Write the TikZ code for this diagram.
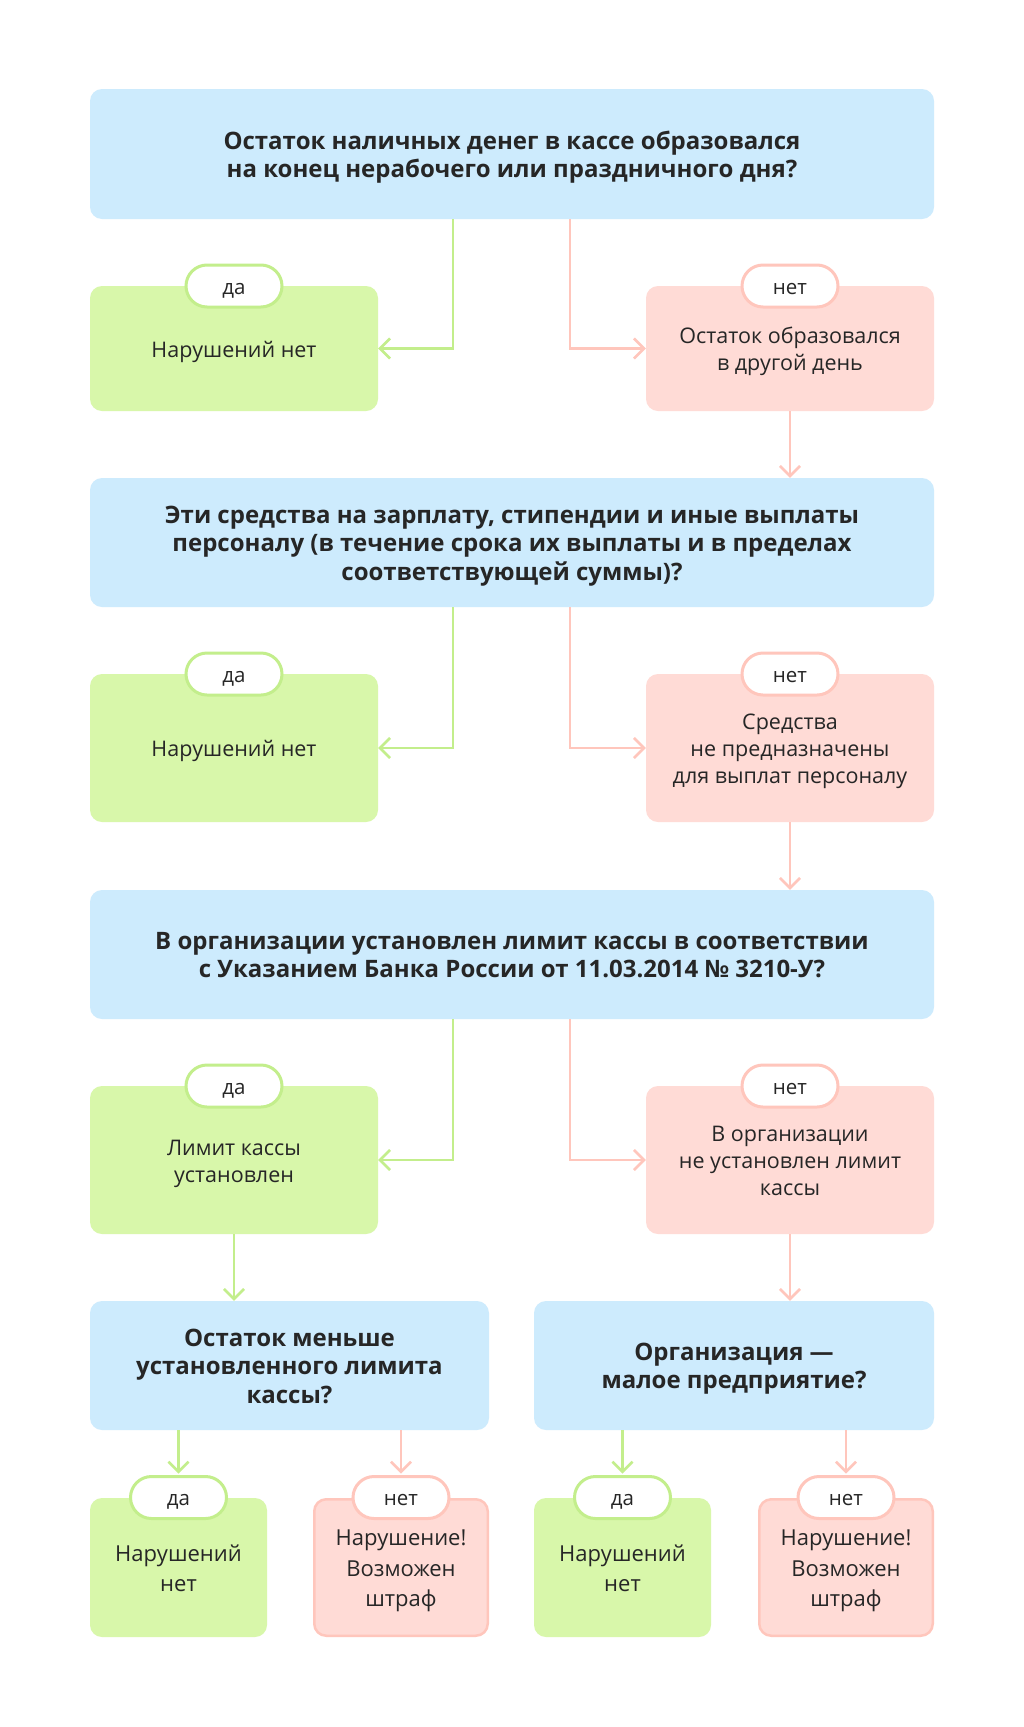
\documentclass[tikz,border=0pt]{standalone}
\usepackage{fontspec}
\setmainfont{Open Sans}
\usetikzlibrary{arrows.meta}
\definecolor{qblue}{HTML}{CDEBFD}
\definecolor{ygreen}{HTML}{D8F7AA}
\definecolor{nred}{HTML}{FFDBD6}
\definecolor{gline}{HTML}{C3EE8C}
\definecolor{rline}{HTML}{FFC6BC}
\definecolor{txt}{HTML}{262626}
\newcommand{\qfont}{\fontsize{24}{28.3}\selectfont\bfseries}
\newcommand{\rfont}{\fontsize{21.5}{26.8}\selectfont}
\newcommand{\pfont}{\fontsize{20.5}{26}\selectfont}
\newcommand{\bfont}{\fontsize{22}{30.5}\selectfont}
\newcommand{\sttop}{\rule{0pt}{\dimexpr0.76em+6.6pt\relax}}
\newcommand{\stbot}{\rule[-0.26em]{0pt}{0.26em}}
\tikzset{
  base/.style={inner sep=0pt, align=center, text=txt, rounded corners=12pt},
  one/.style={execute at begin node=\sttop, execute at end node=\stbot},
  qbox/.style={base, fill=qblue, font=\qfont},
  ybox/.style={base, fill=ygreen, font=\rfont},
  nbox/.style={base, fill=nred, font=\rfont},
  nboxb/.style={nbox, draw=rline, line width=2.5pt, font=\bfont},
  yboxb/.style={ybox, font=\bfont},
  ypill/.style={base, one, fill=white, draw=gline, line width=3pt, rounded corners=21pt, minimum width=96pt, minimum height=42pt, font=\pfont},
  npill/.style={ypill, draw=rline},
  garrow/.style={draw=gline, line width=2.6pt, -{Straight Barb[length=10pt,width=20pt]}},
  rarrow/.style={draw=rline, line width=2.6pt, -{Straight Barb[length=10pt,width=20pt]}},
}
\begin{document}
\begin{tikzpicture}[x=1pt,y=-1pt]
\useasboundingbox[fill=white] (0,0) rectangle (1024,1727);

% Row 1
\node[qbox, minimum width=844pt, minimum height=130pt] (q1) at (512,154)
  {\sttop Остаток наличных денег в кассе образовался\\на конец нерабочего или праздничного дня?\stbot};
\node[ybox, one, minimum width=288pt, minimum height=125pt] (y1) at (234,348.5) {Нарушений нет};
\node[nbox, minimum width=288pt, minimum height=125pt] (n1) at (790,348.5) {\sttop Остаток образовался\\в другой день\stbot};
\node[ypill] (py1) at (234,286) {да};
\node[npill] (pn1) at (790,286) {нет};

% Row 2
\node[qbox, minimum width=844pt, minimum height=129pt] (q2) at (512,542.5)
  {\sttop Эти средства на зарплату, стипендии и иные выплаты\\персоналу (в течение срока их выплаты и в пределах\\соответствующей суммы)?\stbot};
\node[ybox, one, minimum width=288pt, minimum height=148pt] (y2) at (234,748) {Нарушений нет};
\node[nbox, minimum width=288pt, minimum height=148pt] (n2) at (790,748) {\sttop Средства\\не предназначены\\для выплат персоналу\stbot};
\node[ypill] (py2) at (234,674) {да};
\node[npill] (pn2) at (790,674) {нет};

% Row 3
\node[qbox, minimum width=844pt, minimum height=129pt] (q3) at (512,954.5)
  {\sttop В организации установлен лимит кассы в соответствии\\с Указанием Банка России от 11.03.2014 №~3210-У?\stbot};
\node[ybox, minimum width=288pt, minimum height=148pt] (y3) at (234,1160) {\sttop Лимит кассы\\установлен\stbot};
\node[nbox, minimum width=288pt, minimum height=148pt] (n3) at (790,1160) {\sttop В организации\\не установлен лимит\\кассы\stbot};
\node[ypill] (py3) at (234,1086) {да};
\node[npill] (pn3) at (790,1086) {нет};

% Row 4
\node[qbox, minimum width=399pt, minimum height=129pt] (q4) at (289.5,1365.5)
  {\sttop Остаток меньше\\установленного лимита\\кассы?\stbot};
\node[qbox, minimum width=400pt, minimum height=129pt] (q5) at (734,1365.5)
  {\sttop Организация~—\\малое предприятие?\stbot};

% Row 5
\node[yboxb, minimum width=177pt, minimum height=139pt] (y4) at (178.5,1567.5) {\sttop Нарушений\\нет\stbot};
\node[nboxb, minimum width=173.5pt, minimum height=136.5pt] (n4) at (401,1567.5) {\sttop Нарушение!\\Возможен\\штраф\stbot};
\node[yboxb, minimum width=177pt, minimum height=139pt] (y5) at (622.5,1567.5) {\sttop Нарушений\\нет\stbot};
\node[nboxb, minimum width=173.5pt, minimum height=136.5pt] (n5) at (846,1567.5) {\sttop Нарушение!\\Возможен\\штраф\stbot};
\node[ypill] (py4) at (178.5,1497.5) {да};
\node[npill] (pn4) at (401,1497.5) {нет};
\node[ypill] (py5) at (622.5,1497.5) {да};
\node[npill] (pn5) at (846,1497.5) {нет};

% Connectors
\draw[garrow] ([xshift=-59pt]q1.south) |- (y1.east);
\draw[rarrow] ([xshift=58pt]q1.south) |- (n1.west);
\draw[rarrow] (n1.south) -- (n1.south |- q2.north);

\draw[garrow] ([xshift=-59pt]q2.south) |- (y2.east);
\draw[rarrow] ([xshift=58pt]q2.south) |- (n2.west);
\draw[rarrow] (n2.south) -- (n2.south |- q3.north);

\draw[garrow] ([xshift=-59pt]q3.south) |- (y3.east);
\draw[rarrow] ([xshift=58pt]q3.south) |- (n3.west);
\draw[garrow] (y3.south) -- (y3.south |- q4.north);
\draw[rarrow] (n3.south) -- (n3.south |- q5.north);

\draw[garrow] (py4.north |- q4.south) -- ([yshift=1.5pt]py4.north);
\draw[rarrow] (pn4.north |- q4.south) -- ([yshift=1.5pt]pn4.north);
\draw[garrow] (py5.north |- q5.south) -- ([yshift=1.5pt]py5.north);
\draw[rarrow] (pn5.north |- q5.south) -- ([yshift=1.5pt]pn5.north);
\end{tikzpicture}
\end{document}
